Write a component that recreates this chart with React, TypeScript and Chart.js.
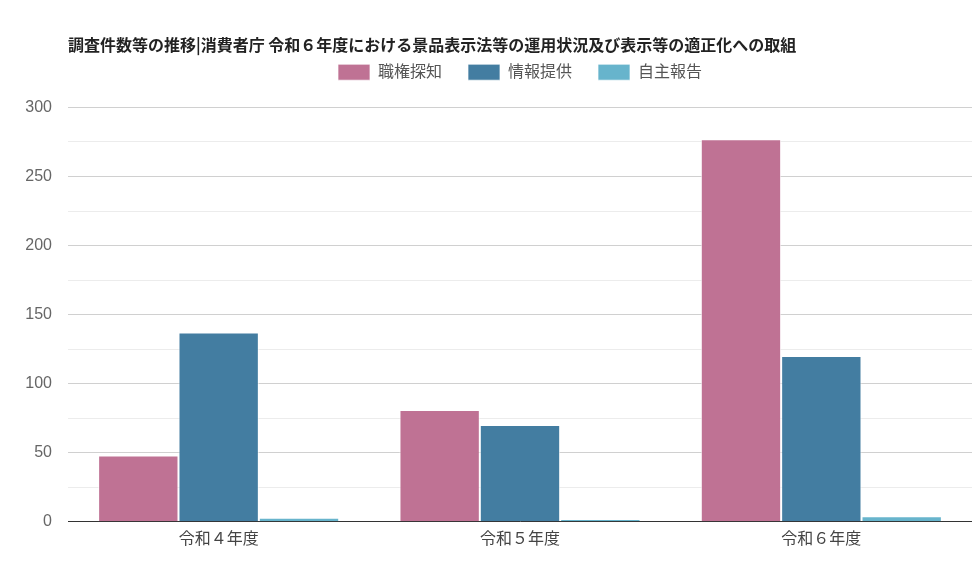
import React, { useEffect, useRef } from "react";
import { Chart, registerables } from "chart.js";

Chart.register(...registerables);

const categories = ["令和４年度", "令和５年度", "令和６年度"];
const seriesNames = ["職権探知", "情報提供", "自主報告"];
const shokken = [48, 81, 277];
const joho = [137, 70, 120];
const jishu = [3, 2, 4];
const colors = ["#BF7294", "#437DA1", "#67B4CC"];
const titleText = "調査件数等の推移|消費者庁 令和６年度における景品表示法等の運用状況及び表示等の適正化への取組";

const FONT = "'Liberation Sans', 'Noto Sans CJK JP', sans-serif";

export default function App() {
  const ref = useRef<HTMLCanvasElement | null>(null);
  useEffect(() => {
    document.body.style.margin = "0";
    if (!ref.current) return;
    const values = [shokken, joho, jishu];
    const chart = new Chart(ref.current, {
      type: "bar",
      data: {
        labels: categories,
        datasets: seriesNames.map((n, i) => ({
          label: n,
          data: values[i],
          backgroundColor: colors[i],
          borderColor: "rgba(255,255,255,0.7)",
          borderWidth: 1,
          categoryPercentage: 0.8,
          barPercentage: 1.0,
        })),
      },
      options: {
        animation: false,
        responsive: false,
        maintainAspectRatio: false,
        layout: { padding: { top: 35, right: 0, bottom: 34, left: 0 } },
        plugins: {
          title: {
            display: true,
            text: titleText,
            align: "start",
            fullSize: false,
            color: "#222",
            font: { family: "'Noto Sans CJK JP', sans-serif", size: 16, weight: "bold" },
            padding: { top: 0, bottom: -16 },
          },
          subtitle: {
            display: true,
            text: "",
            position: "top",
            weight: 500,
            fullSize: false,
            font: { size: 1 },
            padding: { top: 0, bottom: 16 },
          },
          legend: {
            display: true,
            fullSize: false,
            labels: {
              boxWidth: 32,
              boxHeight: 16,
              color: "#555",
              font: { family: FONT, size: 16 },
              padding: 26,
            },
          },
          tooltip: { enabled: false },
        },
        scales: {
          x: {
            grid: { display: false },
            border: { display: true, color: "#333", width: 1 },
            ticks: { color: "#444", font: { family: FONT, size: 16 }, padding: 0 },
          },
          y: {
            min: 0,
            max: 300,
            afterFit: (s: any) => { s.width = 68; },
            border: { display: false },
            grid: {
              drawTicks: false,
              color: (ctx: any) => (ctx.tick && ctx.tick.value % 50 === 0 ? "#d0d0d0" : "#ececec"),
            },
            ticks: {
              stepSize: 25,
              padding: 16,
              color: "#666",
              font: { family: FONT, size: 16 },
              callback: (v: any) => (Number(v) % 50 === 0 ? String(v) : ""),
            },
          },
        },
      },
    });
    return () => chart.destroy();
  }, []);
  return (
    <div style={{ position: "absolute", left: 0, top: 0, width: 972, height: 583, background: "#fff" }}>
      <canvas ref={ref} width={972} height={583} style={{ width: 972, height: 583 }} />
    </div>
  );
}
